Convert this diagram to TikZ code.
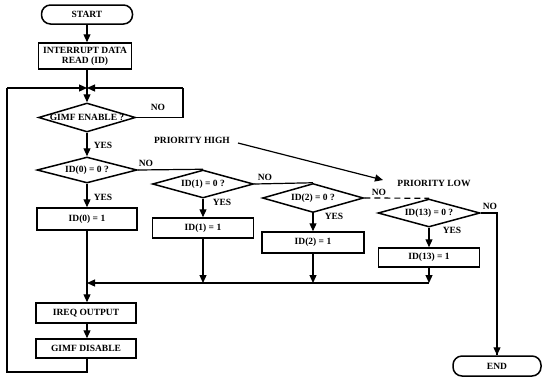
\documentclass[tikz,border=0pt]{standalone}
\usepackage{fontspec}
\setmainfont{Liberation Serif}
\usetikzlibrary{arrows.meta,shapes.geometric}
\begin{document}
\begin{tikzpicture}[x=1pt,y=-1pt,
  every node/.style={font=\fontsize{9.5}{10}\selectfont\bfseries},
  boxst/.style={draw,line width=1.5pt,rectangle,inner sep=0pt,align=center},
  termst/.style={draw,line width=1.5pt,rectangle,rounded corners=9pt,inner sep=0pt},
  decst/.style={draw,line width=1.5pt,diamond,inner sep=0pt,aspect=3.6},
  lbl/.style={inner sep=0pt},
  ln/.style={line width=1.2pt},
  arr/.style={line width=1.2pt,-{Triangle[length=8pt,width=7pt]}}]
\useasboundingbox (0,0) rectangle (543,376);
% nodes
\node[termst,minimum width=91pt,minimum height=19pt] (start) at (87,14.5) {START};
\node[boxst,minimum width=93pt,minimum height=26pt] (intr) at (85,56) {INTERRUPT DATA\\READ (ID)};
\coordinate (jn) at (87,88);
\node[decst,minimum width=97pt,minimum height=29pt,label={center:GIMF ENABLE ?}] (gimf) at (87,117.5) {};
\node[decst,minimum width=100pt,minimum height=26pt,label={center:ID(0) = 0 ?}] (id0) at (87,170) {};
\node[boxst,minimum width=100pt,minimum height=22pt] (id0s) at (87,219) {ID(0) = 1};
\node[decst,minimum width=101pt,minimum height=28pt,label={center:ID(1) = 0 ?}] (id1) at (203,184) {};
\node[boxst,minimum width=101pt,minimum height=20pt] (id1s) at (203,228) {ID(1) = 1};
\node[decst,minimum width=101pt,minimum height=29pt,label={center:ID(2) = 0 ?}] (id2) at (313,198) {};
\node[boxst,minimum width=102pt,minimum height=21pt] (id2s) at (313,242.5) {ID(2) = 1};
\node[decst,minimum width=102pt,minimum height=28pt,label={center:ID(13) = 0 ?}] (id13) at (429,213) {};
\node[boxst,minimum width=101pt,minimum height=19pt] (id13s) at (429,257.5) {ID(13) = 1};
\coordinate (mg) at (87,283);
\node[boxst,minimum width=100pt,minimum height=20pt] (ireq) at (86,313) {IREQ OUTPUT};
\node[boxst,minimum width=100pt,minimum height=19pt] (gdis) at (86,348.5) {GIMF DISABLE};
\node[termst,minimum width=88pt,minimum height=20pt] (endn) at (497,366) {END};
% corner coordinates
\coordinate (lb) at (7,372);
\coordinate (lt) at (7,88);
\coordinate (rt) at (183,88);
\coordinate (rb) at (183,117.5);
\coordinate (mr) at (429,283);
% connectors
\draw[arr] (start.south -| jn) -- (intr.north -| jn);
\draw[ln] (intr.south -| jn) -- (jn);
\draw[arr] (jn) -- (gimf.north);
\draw[ln] (gimf.east) -- (rb) -- (rt);
\draw[arr] (rt) -- (jn);
\draw[arr] (gimf.south) -- (id0.north);
\draw[arr] (id0.south) -- (id0s.north);
\draw[ln] (id0.east) -- (id1.north);
\draw[arr] (id1.south) -- (id1s.north);
\draw[ln] (id1.east) -- (id2.north);
\draw[arr] (id2.south) -- (id2s.north);
\draw[ln,dash pattern=on 6pt off 4pt] (id2.east) -- (id13.north);
\draw[arr] (id13.south) -- (id13s.north);
\draw[ln] (id13.east) -| (endn.north);
\draw[arr] (endn.north |- id13.east) -- (endn.north);
\draw[arr] (id13s.south) -- (mr);
\draw[arr] (id2s.south) -- (id2s.south |- mg);
\draw[arr] (id1s.south) -- (id1s.south |- mg);
\draw[arr] (mr) -- (mg);
\draw[ln] (id0s.south -| mg) -- (mg);
\draw[arr] (mg) -- (ireq.north -| mg);
\draw[arr] (ireq.south -| mg) -- (gdis.north -| mg);
\draw[ln] (gdis.south -| mg) |- (lb) -- (lt);
\draw[arr] (lt) -- (jn);
% priority
\node[lbl] (ph) at (192,140) {PRIORITY HIGH};
\node[lbl] (pl) at (434,183) {PRIORITY LOW};
\coordinate (pa) at (238,143);
\coordinate (pb) at (383,180);
\draw[arr] (pa) -- (pb);
% labels
\node[lbl] (n1) at (158,107) {NO};
\node[lbl] (y1) at (103,145) {YES};
\node[lbl] (n2) at (146,163) {NO};
\node[lbl] (y2) at (103,197) {YES};
\node[lbl] (n3) at (265,177) {NO};
\node[lbl] (y3) at (222,202) {YES};
\node[lbl] (n4) at (379,192) {NO};
\node[lbl] (y4) at (334,216) {YES};
\node[lbl] (n5) at (490,206) {NO};
\node[lbl] (y5) at (452,230) {YES};
\end{tikzpicture}
\end{document}
